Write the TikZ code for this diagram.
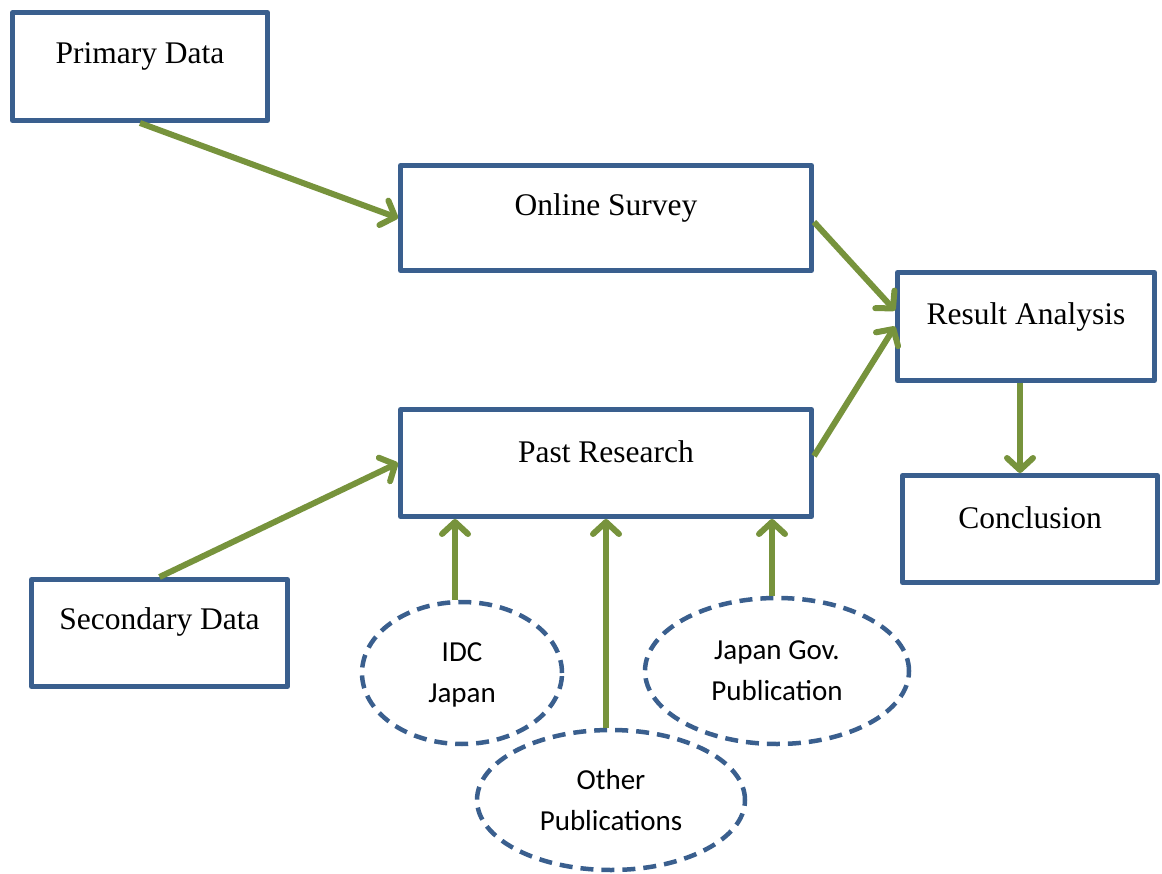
\documentclass[tikz,border=0pt]{standalone}
\usepackage{fontspec}
\setmainfont{Liberation Serif}
\newfontfamily\calib{Carlito}
\usetikzlibrary{arrows.meta,shapes.geometric,calc}
\definecolor{boxblue}{HTML}{3A5F8E}
\definecolor{arrowgreen}{HTML}{77933C}
\tikzset{
  box/.style={draw=boxblue, line width=5pt, line join=round, rectangle, inner sep=0pt},
  boxtext/.style={font=\fontsize{31.5}{36}\selectfont},
  src/.style={draw=boxblue, line width=4.5pt, ellipse, inner sep=0pt,
    dash pattern=on 13pt off 8pt,
    font=\calib\fontsize{29}{41}\selectfont, align=center},
  flow/.style={draw=arrowgreen, line width=6pt,
    -{Straight Barb[length=12pt,width=26pt,line cap=round,line join=round]}}
}
\begin{document}
\begin{tikzpicture}[x=1pt,y=-1pt]
\useasboundingbox (0,0) rectangle (1162,874);

% process boxes
\node[box, minimum width=255pt, minimum height=108pt,
  label={[boxtext,yshift=10pt]center:Primary Data}] (prim) at (140,66.5) {};
\node[box, minimum width=411pt, minimum height=105pt,
  label={[boxtext,yshift=10pt]center:Online Survey}] (onl) at (606,218) {};
\node[box, minimum width=257pt, minimum height=108pt,
  label={[boxtext,yshift=10pt]center:Result Analysis}] (res) at (1026,326.5) {};
\node[box, minimum width=411pt, minimum height=107pt,
  label={[boxtext,yshift=11pt]center:Past Research}] (past) at (606,463) {};
\node[box, minimum width=255pt, minimum height=107pt,
  label={[boxtext,yshift=11pt]center:Conclusion}] (conc) at (1030,529) {};
\node[box, minimum width=256pt, minimum height=107pt,
  label={[boxtext,yshift=11pt]center:Secondary Data}] (sec) at (159.5,633) {};

% secondary sources
\node[src, minimum width=200pt, minimum height=142pt,
  text depth=0pt] (idc) at (462,673) {IDC\\Japan};
\node[src, minimum width=264pt, minimum height=146pt] (gov) at (777,671) {Japan Gov.\\Publication};
\node[src, minimum width=268pt, minimum height=140pt] (oth) at (611,800) {Other\\Publications};

% flow
\draw[flow] (prim.south) -- (onl.west);
\draw[flow] (sec.north) -- (past.west);
\draw[flow] ([yshift=-4pt]onl.east) -- ([yshift=16pt]res.west);
\draw[flow] ([yshift=7pt]past.east) -- ([yshift=0pt]res.west);
\draw[flow] ([xshift=-6pt]res.south) -- ([xshift=-10pt]conc.north);
\draw[flow] ([xshift=-7pt]idc.north) -- ([xshift=-7pt]idc.north |- past.south);
\draw[flow] ([xshift=-5pt]oth.north) -- ([xshift=-5pt]oth.north |- past.south);
\draw[flow] ([xshift=-5pt]gov.north) -- ([xshift=-5pt]gov.north |- past.south);
\end{tikzpicture}
\end{document}
